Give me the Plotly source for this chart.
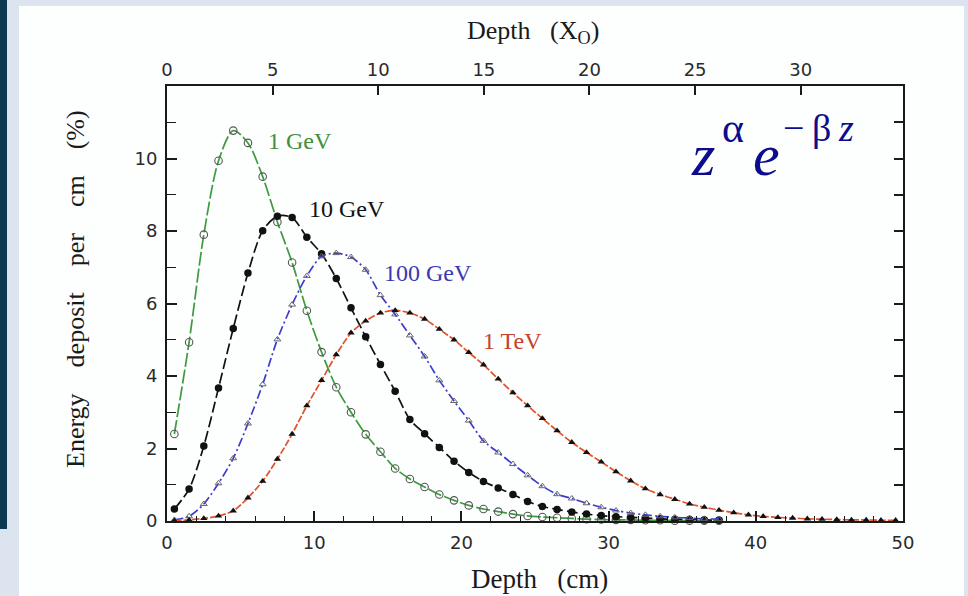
import plotly.graph_objects as go

# Longitudinal shower profiles: energy deposit per cm vs depth, sampled every cm
depth_cm = [0.5, 1.5, 2.5, 3.5, 4.5, 5.5, 6.5, 7.5, 8.5, 9.5,
            10.5, 11.5, 12.5, 13.5, 14.5, 15.5, 16.5, 17.5, 18.5, 19.5,
            20.5, 21.5, 22.5, 23.5, 24.5, 25.5, 26.5, 27.5, 28.5, 29.5,
            30.5, 31.5, 32.5, 33.5, 34.5, 35.5, 36.5, 37.5, 38.5, 39.5,
            40.5, 41.5, 42.5, 43.5, 44.5, 45.5, 46.5, 47.5, 48.5, 49.5]

deposit_1gev = [2.40, 4.93, 7.90, 9.94, 10.77, 10.43, 9.50, 8.25, 7.13, 5.80,
                4.66, 3.69, 3.00, 2.39, 1.91, 1.45, 1.16, 0.94, 0.73, 0.57,
                0.43, 0.33, 0.26, 0.19, 0.14, 0.11, 0.09, 0.07, 0.05, 0.04,
                0.03, 0.03, 0.02, 0.02, 0.01, 0.01, 0.01, 0.01]

deposit_10gev = [0.33, 0.88, 2.07, 3.67, 5.31, 6.84, 8.01, 8.41, 8.37, 7.83,
                 7.37, 6.69, 5.88, 5.08, 4.32, 3.58, 2.80, 2.41, 2.03, 1.65,
                 1.34, 1.09, 0.91, 0.73, 0.54, 0.40, 0.32, 0.25, 0.19, 0.15,
                 0.12, 0.10, 0.08, 0.06, 0.05, 0.04, 0.03, 0.02]

deposit_100gev = [0.03, 0.13, 0.47, 1.04, 1.73, 2.69, 3.77, 5.01, 5.97, 6.76,
                  7.30, 7.39, 7.28, 6.93, 6.23, 5.70, 5.12, 4.54, 3.88, 3.31,
                  2.77, 2.21, 1.89, 1.57, 1.26, 0.96, 0.74, 0.62, 0.49, 0.38,
                  0.29, 0.22, 0.17, 0.13, 0.10, 0.08, 0.06, 0.05]

deposit_1tev = [0.01, 0.03, 0.07, 0.14, 0.28, 0.64, 1.10, 1.71, 2.40, 3.18,
                3.88, 4.59, 5.19, 5.52, 5.74, 5.81, 5.74, 5.57, 5.29, 5.00,
                4.65, 4.31, 3.92, 3.54, 3.18, 2.83, 2.49, 2.17, 1.89, 1.63,
                1.36, 1.11, 0.89, 0.73, 0.60, 0.47, 0.38, 0.30, 0.23, 0.17,
                0.13, 0.10, 0.08, 0.06, 0.05, 0.04, 0.03, 0.03, 0.02, 0.02]

x_ticks_cm = [0, 10, 20, 30, 40, 50]
x_ticks_x0 = [0, 5, 10, 15, 20, 25, 30]
y_ticks = [0, 2, 4, 6, 8, 10]
cm_per_x0 = 1.435

series_labels = ["1 GeV", "10 GeV", "100 GeV", "1 TeV"]

W, H = 968, 596
ML, MR, MT, MB = 167, 65, 86, 75
PW, PH = W - ML - MR, H - MT - MB


def px_to_paper_x(px):
    return (px - ML) / PW


def px_to_paper_y(py):
    return (H - MB - py) / PH


serif = "Liberation Serif, Times New Roman, serif"
sans = "DejaVu Sans, sans-serif"

fig = go.Figure()

styles = [
    dict(y=deposit_1gev, color="#3f9a3f", dash="14px,3px",
         marker=dict(symbol="circle-open", size=7.5, color="#555555", line=dict(width=1.1))),
    dict(y=deposit_10gev, color="#111111", dash="11px,4px",
         marker=dict(symbol="circle", size=7.5, color="#111111")),
    dict(y=deposit_100gev, color="#3c3ccc", dash="9px,3px,2px,3px",
         marker=dict(symbol="triangle-up-open", size=6, color="#666666", line=dict(width=1))),
    dict(y=deposit_1tev, color="#e0522c", dash="7px,2px",
         marker=dict(symbol="triangle-up", size=6.5, color="#111111")),
]

for name, st in zip(series_labels, styles):
    fig.add_trace(go.Scatter(
        x=depth_cm[:len(st["y"])], y=st["y"], name=name,
        mode="lines+markers",
        line=dict(color=st["color"], width=1.7, dash=st["dash"], shape="spline", smoothing=0.8),
        marker=st["marker"], cliponaxis=False, showlegend=False, hoverinfo="skip"))

# carrier trace for the top (radiation lengths) and right axes
fig.add_trace(go.Scatter(x=[], y=[], xaxis="x2", yaxis="y2", showlegend=False, hoverinfo="skip"))

axis_common = dict(showgrid=False, zeroline=False, showline=True, linecolor="#1a1a1a", linewidth=2,
                   ticks="inside", tickcolor="#1a1a1a", tickwidth=1.5,
                   tickfont=dict(family=sans, size=18, color="#2a2a2a"))

fig.update_layout(
    width=W, height=H,
    margin=dict(l=ML, r=MR, t=MT, b=MB, pad=0),
    paper_bgcolor="#dce4ef", plot_bgcolor="rgba(0,0,0,0)",
    xaxis=dict(range=[0, 50], tickvals=x_ticks_cm, ticklen=10, ticklabelstandoff=4,
               minor=dict(dtick=2, tick0=0, ticklen=5, ticks="inside", tickcolor="#1a1a1a", tickwidth=1),
               **axis_common),
    xaxis2=dict(range=[0, 50 / cm_per_x0], tickvals=x_ticks_x0, ticklen=9, overlaying="x", side="top",
                ticklabelstandoff=1, **axis_common),
    yaxis=dict(range=[0, 12], tickvals=y_ticks, ticklen=10, ticklabelstandoff=4,
               minor=dict(dtick=1, tick0=0, ticklen=9, ticks="inside", tickcolor="#1a1a1a", tickwidth=1.2),
               **axis_common),
    yaxis2=dict(range=[0, 12], dtick=1, tick0=0, ticklen=9, overlaying="y", side="right",
                showticklabels=False, **axis_common),
)

# slide-style framing: white panel, dark left bar
fig.add_shape(type="rect", xref="paper", yref="paper", layer="below",
              x0=px_to_paper_x(19), x1=px_to_paper_x(964), y0=px_to_paper_y(600), y1=px_to_paper_y(6),
              fillcolor="#fdfefe", line=dict(width=0))
fig.add_shape(type="rect", xref="paper", yref="paper", layer="below",
              x0=px_to_paper_x(-2), x1=px_to_paper_x(7), y0=px_to_paper_y(529), y1=px_to_paper_y(-2),
              fillcolor="#0b3a52", line=dict(width=0))

# curve labels
label_pos = [(9.05, 10.47, "#3f8f3f"), (12.25, 8.60, "#111111"), (17.75, 6.83, "#3a3ab0"), (23.5, 4.96, "#c4432a")]
for text, (lx, ly, col) in zip(series_labels, label_pos):
    fig.add_annotation(x=lx, y=ly, xref="x", yref="y", text=text, showarrow=False,
                       xanchor="center", yanchor="middle",
                       font=dict(family=serif, size=24, color=col))

# axis titles
nb = "\u00a0"
fig.add_annotation(x=px_to_paper_x(539), y=px_to_paper_y(579), xref="paper", yref="paper",
                   xanchor="center", yanchor="middle",
                   text="Depth" + nb * 3 + "(cm)", showarrow=False,
                   font=dict(family=serif, size=27, color="#1a1a1a"))
fig.add_annotation(x=px_to_paper_x(533), y=px_to_paper_y(32), xref="paper", yref="paper",
                   xanchor="center", yanchor="middle",
                   text="Depth" + nb * 3 + "(X<sub>O</sub>)", showarrow=False,
                   font=dict(family=serif, size=26, color="#1a1a1a"))
fig.add_annotation(x=px_to_paper_x(75), y=px_to_paper_y(289), xref="paper", yref="paper",
                   xanchor="center", yanchor="middle",
                   text=("Energy" + nb * 4 + "deposit" + nb * 4 + "per" + nb * 4 + "cm" + nb * 4 + "(%)"),
                   textangle=-90, showarrow=False,
                   font=dict(family=serif, size=26, color="#1a1a1a"))

# shower shape formula z^alpha e^(-beta z), set piece by piece
formula_color = "#0c0c8c"
thin = "\u2009"
formula_parts = [
    ("<i>z</i>", 689, 175, 60),
    ("α", 720, 142, 42),
    ("<i>e</i>", 751, 175, 60),
    ("−" + thin + "β" + thin + "<i>z</i>", 781, 141, 38),
]
for txt, left_px, baseline_px, fsize in formula_parts:
    fig.add_annotation(x=px_to_paper_x(left_px), y=px_to_paper_y(baseline_px - 0.338 * fsize),
                       xref="paper", yref="paper", xanchor="left", yanchor="middle",
                       showarrow=False, text=txt,
                       font=dict(family=serif, size=fsize, color=formula_color))

fig.write_html("out.html")
